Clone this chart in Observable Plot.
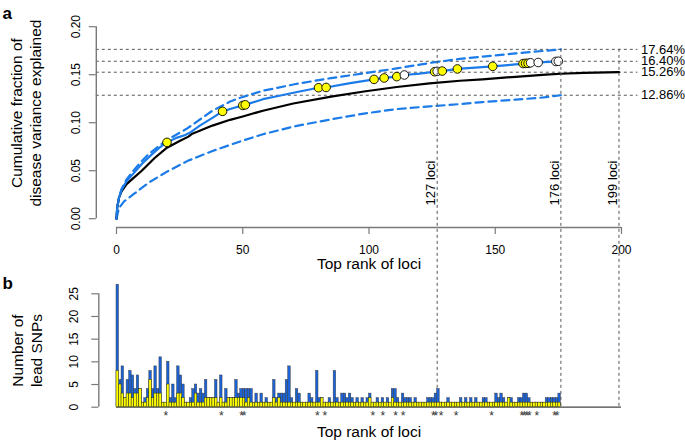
<!DOCTYPE html>
<html><head><meta charset="utf-8">
<script src="https://cdn.jsdelivr.net/npm/d3@7"></script>
<script src="https://cdn.jsdelivr.net/npm/@observablehq/plot@0.6"></script>
<style>
html,body{margin:0;padding:0;background:#fff;}
#fig{position:relative;width:685px;height:442px;}
#fig svg{position:absolute;left:0;top:0;}
</style></head><body><div id="fig"></div>
<script>
// ---------------- data ----------------
// panel a: cumulative fraction of disease variance explained vs top rank of loci
const blackRank = [0,0.3,1,2,4,7,10,15,20,25,28.5,30,32,38,45,50,58,70,85,98,111,124,136,145,158,170,176,185,199];
const blackFrac = [0,0.012,0.022,0.0285,0.036,0.043,0.050,0.063,0.074,0.081,0.0855,0.0885,0.0905,0.097,0.103,0.1065,0.1125,0.120,0.1272,0.1325,0.1372,0.1410,0.1437,0.1452,0.1478,0.1500,0.1510,0.1518,0.1526];

const blueRank = [0,0.3,1,2,4,7,10,14,17,20,24,27,29,33,38,42,46,50,51,58,65,72,80,83,92,102,106,111,114,120,126,127,129,135,142,149,155,161,162,163,164,167,171,174,175,176];
const blueFrac = [0,0.012,0.022,0.030,0.039,0.048,0.057,0.067,0.074,0.0795,0.0845,0.0870,0.0895,0.0970,0.1050,0.1118,0.1150,0.1180,0.1186,0.1245,0.1283,0.1322,0.1364,0.1367,0.1410,0.1451,0.1466,0.1480,0.1497,0.1512,0.1531,0.1535,0.1538,0.1560,0.1573,0.1587,0.1600,0.1616,0.1618,0.1619,0.1624,0.1627,0.1634,0.1638,0.1640,0.1641];

const upperRank = [0,0.3,1,2,4,7,10,13,20,28,38,45,49,58,71,85,98,111,124,136,145,158,176];
const upperFrac = [0,0.012,0.022,0.031,0.041,0.051,0.060,0.068,0.082,0.094,0.1125,0.122,0.126,0.1333,0.1403,0.1465,0.1514,0.1566,0.1622,0.1665,0.1688,0.1722,0.1764];

const lowerRank = [0,0.5,1,3,7,13,20,28,38,49,58,71,85,98,111,124,136,145,158,168,176];
const lowerFrac = [0,0.006,0.011,0.018,0.026,0.038,0.049,0.060,0.0705,0.0805,0.088,0.0965,0.1035,0.1095,0.1142,0.117,0.1194,0.1215,0.124,0.126,0.1286];

const refLevels = [0.1764, 0.1640, 0.1526, 0.1286];
const refLabels = ["17.64%", "16.40%", "15.26%", "12.86%"];
const lociLines = [127, 176, 199];
const lociLabels = ["127 loci", "176 loci", "199 loci"];

// highlighted loci (circles in a, asterisks in b)
const markedRanks = [20,42,50,51,80,83,102,106,111,114,126,127,129,135,149,161,162,163,164,167,174,175];
const markedFill  = ["yellow","yellow","yellow","yellow","yellow","yellow","yellow","yellow","yellow","white","yellow","white","yellow","yellow","yellow","yellow","yellow","yellow","white","white","white","white"];

// panel b: number of lead SNPs per locus (rank 1..176)
const totalSNPs = [
 27,6,9,2,6,8,7,4,7,4, 1,2,4,8,4,9,4,11,1,1, 10,2,5,2,9,7,5,1,1,2, 4,5,3,4,3,6,2,2,2,6,
 1,7,1,4,2,2,2,6,3,4, 4,4,4,4,1,3,1,3,1,2, 1,1,6,2,3,3,3,6,9,2, 1,4,3,1,1,1,3,2,1,8,
 2,2,1,1,2,1,8,2,1,3, 3,2,3,2,1,2,1,2,1,2, 3,1,1,2,1,2,1,2,1,4, 4,2,1,3,2,2,2,1,2,1,
 1,1,1,2,2,2,3,4,1,1, 1,2,1,1,1,1,2,1,2,1, 2,1,2,1,1,2,2,1,1,1, 3,2,3,2,1,2,2,1,1,2,
 2,3,3,2,1,1,1,1,1,1, 2,2,2,2,2,3];
const yellowSNPs = [
 8,5,3,2,3,3,2,3,3,4, 1,1,2,6,2,3,3,3,1,1, 5,1,1,1,3,3,2,1,1,1, 1,3,1,1,1,2,2,2,2,2,
 1,2,1,1,2,2,2,2,2,2, 2,1,2,1,1,1,1,1,1,1, 1,1,2,1,2,1,1,1,1,1, 1,1,1,1,1,1,1,1,1,1,
 1,2,1,1,1,1,1,1,1,1, 1,1,1,1,1,1,1,1,1,1, 2,1,1,1,1,1,1,1,1,2, 1,1,1,1,1,1,1,1,1,1,
 1,1,1,1,1,1,1,1,1,1, 1,1,1,1,1,1,1,1,1,1, 1,1,1,1,1,1,1,1,1,1, 1,1,1,1,1,2,1,1,1,1,
 1,1,1,1,1,1,1,1,1,1, 1,1,1,1,1,1];

const xTicks = [0, 50, 100, 150, 200];
const yTicksA = [0, 0.05, 0.10, 0.15, 0.20];
const yTicksB = [0, 5, 10, 15, 20, 25];
const xLabel = "Top rank of loci";
const yLabelA = "Cumulative fraction of\ndisease variance explained";
const yLabelB = "Number of\nlead SNPs";

// ---------------- layout ----------------
const W = 685, H = 442;
const FONT = "'Liberation Sans', Arial, Helvetica, sans-serif";
const BLUE = "#1b7be8", BAR_BLUE = "#1a62d6", AXIS = "#7a7a7a", REF = "#555";
const A = {left: 95.8, right: 637.4, top: 18, bottom: 227, x0: 116, xPer: 2.525, y0: 218.2, yPer: 960};
const xDomainA = [(A.left - A.x0) / A.xPer, (A.right - A.x0) / A.xPer];
const yDomainA = [(A.y0 - A.bottom) / A.yPer, (A.y0 - A.top) / A.yPer];
const B = {left: 98.3, right: 637.4, top: A.y0 - refLevels[0] * A.yPer, bottom: 411.6, y0: 406.7, yPer: 4.536};
const xDomainB = [(B.left - A.x0) / A.xPer, (B.right - A.x0) / A.xPer];
const yDomainB = [(B.y0 - B.bottom) / B.yPer, (B.y0 - B.top) / B.yPer];

const pts = (rs, vs) => rs.map((r, i) => ({r, v: vs[i]}));
const blackPts = pts(blackRank, blackFrac);
const bluePts = pts(blueRank, blueFrac);
const upperPts = pts(upperRank, upperFrac);
const lowerPts = pts(lowerRank, lowerFrac);
const marked = markedRanks.map((r, i) => ({r, v: blueFrac[blueRank.indexOf(r)], fill: markedFill[i]}));
const bars = totalSNPs.map((t, i) => ({rank: i + 1, total: t, yellow: yellowSNPs[i]}));

const plotA = Plot.plot({
  width: W, height: H,
  marginLeft: A.left, marginRight: W - A.right, marginTop: A.top, marginBottom: H - A.bottom,
  x: {domain: xDomainA}, y: {domain: yDomainA}, color: {type: "identity"},
  style: {fontFamily: FONT, fontSize: "12px", background: "transparent", color: "black"},
  marks: [
    Plot.ruleY(refLevels, {stroke: REF, strokeDasharray: "3,3", strokeWidth: 1}),
    Plot.text(refLevels, {y: d => d, text: (d, i) => refLabels[i], frameAnchor: "right", textAnchor: "start", dx: 3, fontSize: 13}),
    Plot.text(lociLines, {x: d => d, y: 0.0372, text: (d, i) => lociLabels[i], rotate: -90, textAnchor: "middle", lineAnchor: "bottom", dx: -2, fontSize: 13}),
    Plot.line(lowerPts, {x: "r", y: "v", stroke: BLUE, strokeWidth: 2.2, strokeDasharray: "8,5"}),
    Plot.line(upperPts, {x: "r", y: "v", stroke: BLUE, strokeWidth: 2.2, strokeDasharray: "8,5"}),
    Plot.line(blackPts, {x: "r", y: "v", stroke: "black", strokeWidth: 2.2}),
    Plot.line(bluePts, {x: "r", y: "v", stroke: BLUE, strokeWidth: 2.2}),
    Plot.dot(marked, {x: "r", y: "v", r: 4.3, fill: "fill", stroke: "black", strokeWidth: 0.9}),
    Plot.ruleY([yDomainA[0]], {x1: xTicks[0], x2: xTicks[xTicks.length - 1], stroke: AXIS, strokeWidth: 1.4}),
    Plot.ruleX([xDomainA[0]], {y1: yTicksA[0], y2: yTicksA[yTicksA.length - 1], stroke: AXIS, strokeWidth: 1.4}),
    Plot.axisX(xTicks, {anchor: "bottom", tickSize: 7, tickPadding: 11, stroke: AXIS, strokeWidth: 1.2, fill: "black", fontSize: 12, label: null}),
    Plot.axisY(yTicksA, {anchor: "left", tickSize: 7, tickPadding: 9.5, tickRotate: -90, tickFormat: d3.format(".2f"), stroke: AXIS, strokeWidth: 1.2, fill: "black", fontSize: 12, label: null}),
    Plot.text([yLabelA], {frameAnchor: "left", y: 0.11, dx: 25 - A.left, rotate: -90, textAnchor: "middle", lineAnchor: "middle", fontSize: 15.5, lineHeight: 1.25}),
    Plot.text([xLabel], {x: 100, frameAnchor: "bottom", dy: 41, fontSize: 15.5}),
    Plot.text(["a"], {frameAnchor: "top-left", dx: 2 - A.left, dy: 6.6 - A.top, textAnchor: "start", fontWeight: "bold", fontSize: 17})
  ]
});

const plotB = Plot.plot({
  width: W, height: H,
  marginLeft: B.left, marginRight: W - B.right, marginTop: B.top, marginBottom: H - B.bottom,
  x: {domain: xDomainB, axis: null}, y: {domain: yDomainB},
  style: {fontFamily: FONT, fontSize: "12px", background: "transparent", color: "black"},
  marks: [
    Plot.ruleX(lociLines, {x: d => d, y1: yDomainB[1], y2: 0, stroke: REF, strokeDasharray: "3,3", strokeWidth: 1}),
    Plot.ruleY([0], {x1: xTicks[0], x2: xTicks[xTicks.length - 1], stroke: "#444", strokeWidth: 1.2}),
    Plot.rect(bars, {x1: d => d.rank - 1, x2: d => d.rank, y1: 0, y2: "total", fill: BAR_BLUE, stroke: "#3a3a3a", strokeWidth: 0.45}),
    Plot.rect(bars, {x1: d => d.rank - 1, x2: d => d.rank, y1: 0, y2: "yellow", fill: "#ffff00", stroke: "#222", strokeWidth: 0.45}),
    Plot.ruleX([xDomainB[0]], {y1: yTicksB[0], y2: yTicksB[yTicksB.length - 1], stroke: AXIS, strokeWidth: 1.4}),
    Plot.axisY(yTicksB, {anchor: "left", tickSize: 7, tickPadding: 14, tickRotate: -90, stroke: AXIS, strokeWidth: 1.2, fill: "black", fontSize: 12, label: null}),
    Plot.text(markedRanks, {x: d => d - 0.5, y: 0, text: () => "*", lineAnchor: "top", dy: 4.5, fontSize: 12, fill: "#333"}),
    Plot.text([yLabelB], {frameAnchor: "left", y: 12.5, dx: 26 - B.left, rotate: -90, textAnchor: "middle", lineAnchor: "middle", fontSize: 15.5, lineHeight: 1.25}),
    Plot.text([xLabel], {x: 100, frameAnchor: "bottom", dy: 24.5, fontSize: 15.5}),
    Plot.text(["b"], {frameAnchor: "top-left", dx: 2 - B.left, dy: 276.6 - B.top, textAnchor: "start", fontWeight: "bold", fontSize: 17})
  ]
});

const fig = document.getElementById("fig");
fig.appendChild(plotA);
fig.appendChild(plotB);
</script></body></html>
